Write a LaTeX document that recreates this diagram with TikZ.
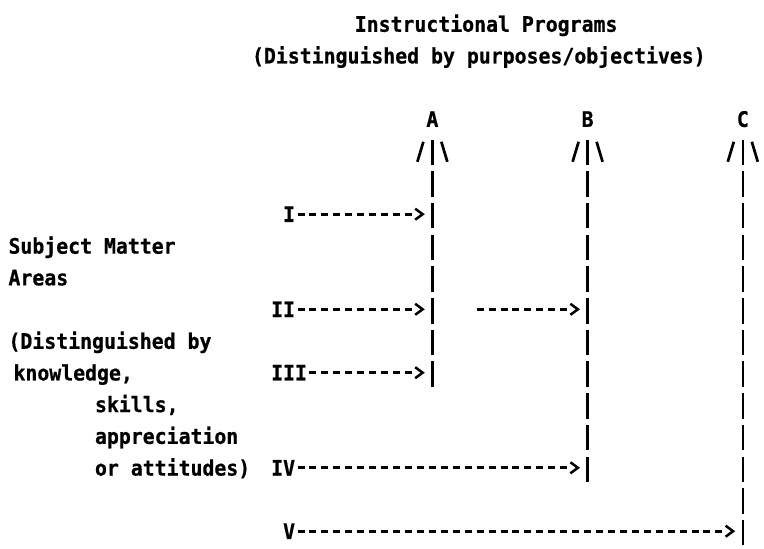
\documentclass[tikz,border=0pt]{standalone}
\usepackage{fontspec}
\newfontfamily\tfont{DejaVu Sans Mono}[FakeStretch=0.93, BoldFeatures={FakeBold=0.6}]
\usetikzlibrary{decorations.markings}
\newcommand\colx[1]{8.5+11.94*#1}
\newcommand\rowy[1]{24+31.7*#1}
\begin{document}
\begin{tikzpicture}[x=1pt,y=-1pt,
  txt/.style={font={\tfont\bfseries\fontsize{21.325pt}{26pt}\selectfont}, inner sep=0pt, outer sep=0pt, anchor=west, text height=15.5pt, text depth=0pt},
  lbl/.style={txt, anchor=center},
  vbar/.style={line width=2.3pt, dash pattern=on 25.5pt off 6.2pt},
  fan/.style={line width=2.7pt},
  arr/.style={line width=3pt, dash pattern=on 7pt off 4.94pt, shorten <=2.47pt, shorten >=10.7pt,
    postaction={decorate},
    decoration={markings, mark=at position 1 with {\draw[solid, line width=2.5pt, shorten <=0pt, shorten >=0pt, line join=miter] (-7.5pt,5.5pt) -- (0pt,0pt) -- (-7.5pt,-5.5pt);}}}
]
\fill[white] (0,0) rectangle (764,549);

% titles
\node[txt] (t1) at ({\colx{29}},{\rowy{0}}) {Instructional Programs};
\node[txt] (t2) at (252,{\rowy{1}}) {(Distinguished by purposes/objectives)};

% programs
\node[lbl] (A) at ({\colx{35.5}},{\rowy{3}}) {A};
\node[lbl] (B) at ({\colx{48.5}},{\rowy{3}}) {B};
\node[lbl] (C) at ({\colx{61.5}},{\rowy{3}}) {C};

% left texts
\node[txt] (sm) at ({\colx{0}},{\rowy{7}}) {Subject Matter};
\node[txt] (ar) at ({\colx{0}},{\rowy{8}}) {Areas};
\node[txt] (dist) at ({\colx{0}},{\rowy{10}}) {(Distinguished by};
\node[txt] (kn) at (13.5,{\rowy{11}}) {knowledge,};
\node[txt] (sk) at (95,{\rowy{12}}) {skills,};
\node[txt] (ap) at (95,{\rowy{13}}) {appreciation};
\node[txt] (oa) at (95,{\rowy{14}}) {or attitudes)};

% subject matter areas
\node[txt] (I) at ({\colx{23}},{\rowy{6}}) {I};
\node[txt] (II) at ({\colx{22}},{\rowy{9}}) {II};
\node[txt] (III) at ({\colx{22}},{\rowy{11}}) {III};
\node[txt] (IV) at ({\colx{22}},{\rowy{14}}) {IV};
\node[txt] (V) at ({\colx{23}},{\rowy{16}}) {V};

% bottoms of the program lines and arrow tip columns
\coordinate (Abot) at ({\colx{35.5}},{\rowy{11}+14.25});
\coordinate (Bbot) at ({\colx{48.5}},{\rowy{14}+14.25});
\coordinate (Cbot) at ({\colx{61.5}},{\rowy{16}+14.25});
\coordinate (Atip) at ({\colx{35.5}-9.7},0);
\coordinate (Btip) at ({\colx{48.5}-9.7},0);
\coordinate (Ctip) at ({\colx{61.5}-9.7},0);
\coordinate (ABs) at ({\colx{39}},{\rowy{9}});

% vertical program lines (A.south is 7.75 below row 3 centre)
\draw[vbar, shorten <=12.7pt] (A.south) -- (Abot);
\draw[vbar, shorten <=12.7pt] (B.south) -- (Bbot);
\draw[vbar, shorten <=12.7pt] (C.south) -- (Cbot);

% fans /|\
\foreach \n in {A,B,C}{
  \draw[fan] ([shift={(-15,34.95)}]\n.south) -- ([shift={(-9,14.95)}]\n.south);
  \draw[fan] ([shift={(15,34.95)}]\n.south) -- ([shift={(9,14.95)}]\n.south);
}

% arrows
\draw[arr] (I.east) -- (I.east -| Atip);
\draw[arr] (II.east) -- (II.east -| Atip);
\draw[arr] (ABs) -- (ABs -| Btip);
\draw[arr] (III.east) -- (III.east -| Atip);
\draw[arr] (IV.east) -- (IV.east -| Btip);
\draw[arr] (V.east) -- (V.east -| Ctip);
\end{tikzpicture}
\end{document}
